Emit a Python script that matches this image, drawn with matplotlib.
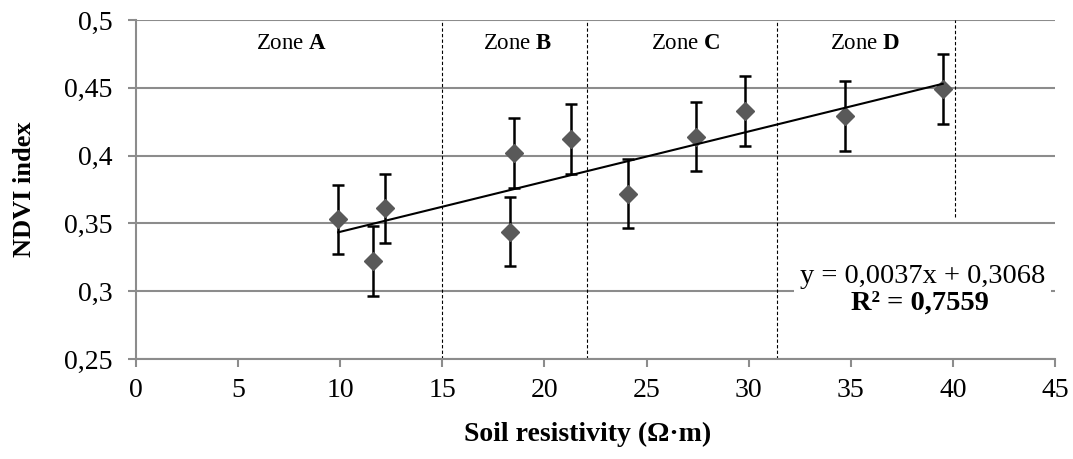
import numpy as np
import matplotlib.pyplot as plt
from matplotlib.ticker import FuncFormatter

# soil resistivity (Ohm m) and mean NDVI with error bars
resistivity = [9.9, 11.6, 12.2, 18.3, 18.5, 21.3, 24.1, 27.4, 29.8, 34.7, 39.5]
ndvi = [0.353, 0.322, 0.361, 0.344, 0.402, 0.412, 0.372, 0.414, 0.433, 0.429, 0.449]
ndvi_err = [0.0255, 0.0258, 0.0256, 0.0255, 0.0257, 0.0257, 0.0257, 0.0257, 0.0257, 0.0257, 0.0257]

# zone limits and labels
zone_bounds = [15, 22.1, 31.4]
zone_d_end = 40.1
zone_names = ["A", "B", "C", "D"]
zone_label_x = [7.6, 18.7, 26.9, 35.7]

slope, intercept, r2 = 0.0037, 0.3068, 0.7559

plt.rcParams['font.family'] = ['Liberation Serif', 'DejaVu Serif']
plt.rcParams['mathtext.fontset'] = 'custom'
plt.rcParams['mathtext.rm'] = 'Liberation Serif'
plt.rcParams['mathtext.bf'] = 'Liberation Serif:bold'

fig = plt.figure(figsize=(10.73, 4.59), dpi=100)
ax = fig.add_axes([136 / 1073, 100 / 459, 919 / 1073, 339 / 459])

grey = '#8c8c8c'
ax.set_xlim(0, 45)
ax.set_ylim(0.25, 0.5)
ax.set_xticks(np.arange(0, 46, 5))
ax.set_yticks([0.25, 0.3, 0.35, 0.4, 0.45, 0.5])
ax.yaxis.set_major_formatter(FuncFormatter(lambda v, p: ('%g' % round(v, 2)).replace('.', ',')))
ax.grid(axis='y', color=grey, linewidth=1.5, zorder=0)
ax.set_axisbelow(True)
for s in ['top', 'right']:
    ax.spines[s].set_visible(False)
for s in ['left', 'bottom']:
    ax.spines[s].set_color(grey)
    ax.spines[s].set_linewidth(1.5)
ax.tick_params(axis='both', colors=grey, width=1.5, length=6, labelsize=20, labelcolor='black')
ax.tick_params(axis='x', pad=8)
ax.tick_params(axis='y', pad=11)

# zone separators
for xb in zone_bounds:
    ax.axvline(xb, color='black', linestyle=(0, (3, 2)), linewidth=0.8, zorder=1)
ax.plot([zone_d_end, zone_d_end], [0.355, 0.5], color='black', linestyle=(0, (3, 2)), linewidth=0.8, zorder=1)

for name, xz in zip(zone_names, zone_label_x):
    ax.text(xz, 0.483, 'Zone $\\mathbf{%s}$' % name, ha='center', va='center', fontsize=16.5)

# data with error bars
ax.errorbar(resistivity, ndvi, yerr=ndvi_err, fmt='D', color='#595959', markersize=9.5,
            ecolor='black', elinewidth=1.8, capsize=4, capthick=1.8, zorder=3)

# linear trend
xt = np.array([min(resistivity), max(resistivity)])
ax.plot(xt, slope * xt + intercept, color='black', linewidth=1.5, zorder=4)

ax.text(38.5, 0.3105, 'y = %sx + %s' % (str(slope).replace('.', ','), str(intercept).replace('.', ',')),
        ha='center', va='center', fontsize=20.5,
        bbox=dict(facecolor='white', edgecolor='none', pad=4), zorder=2)
ax.text(38.4, 0.2915, 'R² = %s' % str(r2).replace('.', ','), ha='center', va='center',
        fontsize=20.5, fontweight='bold', zorder=5)

ax.set_xlabel('Soil resistivity (Ω·m)', fontsize=20, fontweight='bold')
ax.xaxis.set_label_coords(0.491, -63 / 339, transform=ax.transAxes)
ax.set_ylabel('NDVI index', fontsize=19, fontweight='bold')
ax.yaxis.set_label_coords(-100 / 919, 0.5, transform=ax.transAxes)

fig.savefig('out.png', dpi=100)
